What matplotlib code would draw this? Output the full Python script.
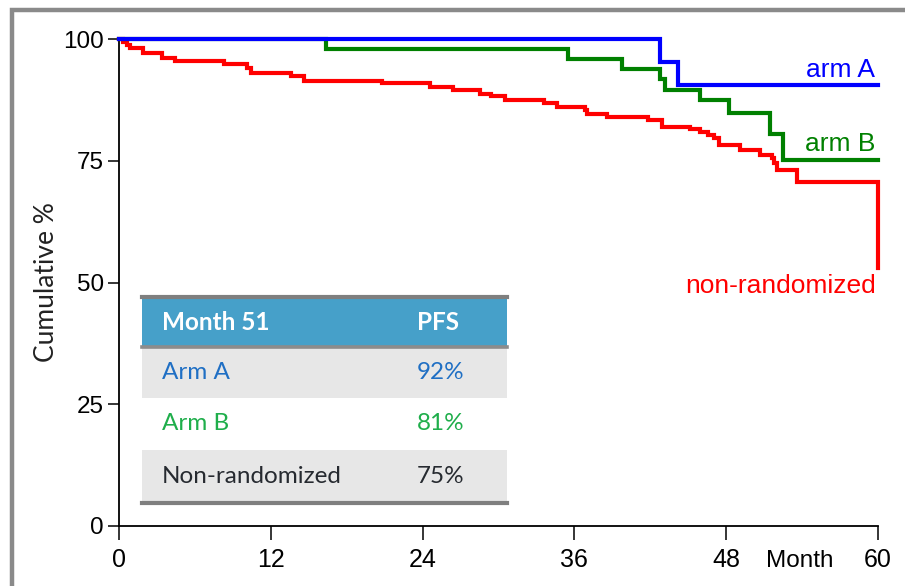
import matplotlib
matplotlib.use("Agg")
import matplotlib.pyplot as plt
from matplotlib.patches import Rectangle

# --- data (months, cumulative %) ---
red_t = [0, 0.3, 0.6, 0.9, 1.9, 3.4, 4.4, 8.3, 10.1, 10.4, 13.6, 14.6, 20.8,
         24.6, 26.4, 28.5, 29.4, 30.5, 33.6, 34.6, 36.8, 37.0, 38.6, 41.8,
         42.9, 45.1, 45.9, 46.6, 47.0, 47.4, 49.1, 50.7, 51.6, 51.8, 52.0,
         53.6, 60.0]
red_s = [100, 99.4, 98.7, 98.1, 97.1, 96.2, 95.5, 94.9, 94.0, 93.0, 92.3, 91.4,
         90.9, 90.2, 89.5, 88.8, 88.2, 87.5, 86.8, 86.1, 85.4, 84.6, 83.9, 83.4,
         82.0, 81.5, 81.0, 80.3, 79.6, 78.2, 77.3, 76.2, 75.5, 74.5, 73.1,
         70.6, 52.9]

blue_t = [0, 42.8, 44.2, 60]
blue_s = [100, 95.3, 90.5, 90.5]

green_t = [0, 16.4, 35.5, 39.8, 42.8, 43.2, 45.9, 48.2, 51.5, 52.5, 60]
green_s = [100, 97.9, 95.9, 93.8, 91.7, 89.5, 87.5, 84.9, 80.5, 75.2, 75.2]

x_ticks = [0, 12, 24, 36, 48, 60]
y_ticks = [0, 25, 50, 75, 100]

table_header = ["Month 51", "PFS"]
table_rows = ["Arm A", "Arm B", "Non-randomized"]
table_pfs = ["92%", "81%", "75%"]

RED, BLUE, GREEN = "#ff0000", "#0000ff", "#008000"
W, H = 905, 586

fig = plt.figure(figsize=(W / 100, H / 100), dpi=100)
ax = fig.add_axes([119 / W, 1 - 526 / H, (878 - 119) / W, (526 - 39) / H])


def px(x, y):
    # pixel position -> figure fraction
    return x / W, 1 - y / H


# outer gray frame (clipped at right/bottom like the screenshot)
fig.add_artist(Rectangle(px(12, 600), (915 - 12) / W, (600 - 10) / H,
                         transform=fig.transFigure, fill=False,
                         edgecolor="#8a8a8a", linewidth=3.2, clip_on=False))

kw = dict(linewidth=3, solid_joinstyle="miter", clip_on=False)
ax.plot(red_t, red_s, drawstyle="steps-post", color=RED, zorder=3, **kw)
ax.plot(green_t, green_s, drawstyle="steps-post", color=GREEN, zorder=4, **kw)
ax.plot(blue_t, blue_s, drawstyle="steps-post", color=BLUE, zorder=5, **kw)

ax.set_xlim(0, 60)
ax.set_ylim(0, 100)
ax.set_xticks(x_ticks)
ax.set_yticks(y_ticks)
for s in ["top", "right"]:
    ax.spines[s].set_visible(False)
for s in ["left", "bottom"]:
    ax.spines[s].set_linewidth(1.3)
ax.tick_params(axis="x", length=10, width=1.1, pad=6, labelsize=18)
ax.tick_params(axis="y", length=8, width=1.1, pad=3, labelsize=17.5)
for lab in ax.get_xticklabels() + ax.get_yticklabels():
    lab.set_fontfamily("Liberation Sans")

ax.set_ylabel("Cumulative %", fontsize=19, family="Lato", color="#222222",
              labelpad=3)
ax.text(53.8, -0.072, "Month", transform=ax.get_xaxis_transform(),
        ha="center", va="center", fontsize=17.5, family="Liberation Sans")

lab_kw = dict(ha="right", va="center", fontsize=19, family="Liberation Sans")
ax.text(59.8, 93.6, "arm A", color=BLUE, **lab_kw)
ax.text(59.8, 78.4, "arm B", color=GREEN, **lab_kw)
ax.text(59.8, 49.3, "non-randomized", color=RED, **lab_kw)

# --- summary table drawn in figure pixels ---
tx0, tx1 = 142, 507
row_edges = [297, 347, 398, 450, 503]
row_bg = ["#46a0c9", "#e7e7e7", "#ffffff", "#e7e7e7"]
row_fg = ["white", "#1f6fc4", "#1fae4b", "#262a30"]
for i in range(4):
    y0, y1 = row_edges[i], row_edges[i + 1]
    fig.add_artist(Rectangle(px(tx0, y1), (tx1 - tx0) / W, (y1 - y0) / H,
                             transform=fig.transFigure, facecolor=row_bg[i],
                             edgecolor="none"))
for y, lw, col in [(297, 3.0, "#7f7f7f"), (347, 2.6, "#8c8c8c"),
                   (503, 3.0, "#7f7f7f")]:
    fig.add_artist(plt.Line2D([tx0 / W, tx1 / W], [1 - y / H, 1 - y / H],
                              transform=fig.transFigure, color=col,
                              linewidth=lw))

cells = [table_header] + [[r, v] for r, v in zip(table_rows, table_pfs)]
for i, (c1, c2) in enumerate(cells):
    yc = (row_edges[i] + row_edges[i + 1]) / 2
    weight = "bold" if i == 0 else "normal"
    for xc, txt in [(162, c1), (417, c2)]:
        fig.text(*px(xc, yc), txt, ha="left", va="center", fontsize=17.5,
                 family="Lato", color=row_fg[i], weight=weight)

fig.savefig("out.png", dpi=100)
